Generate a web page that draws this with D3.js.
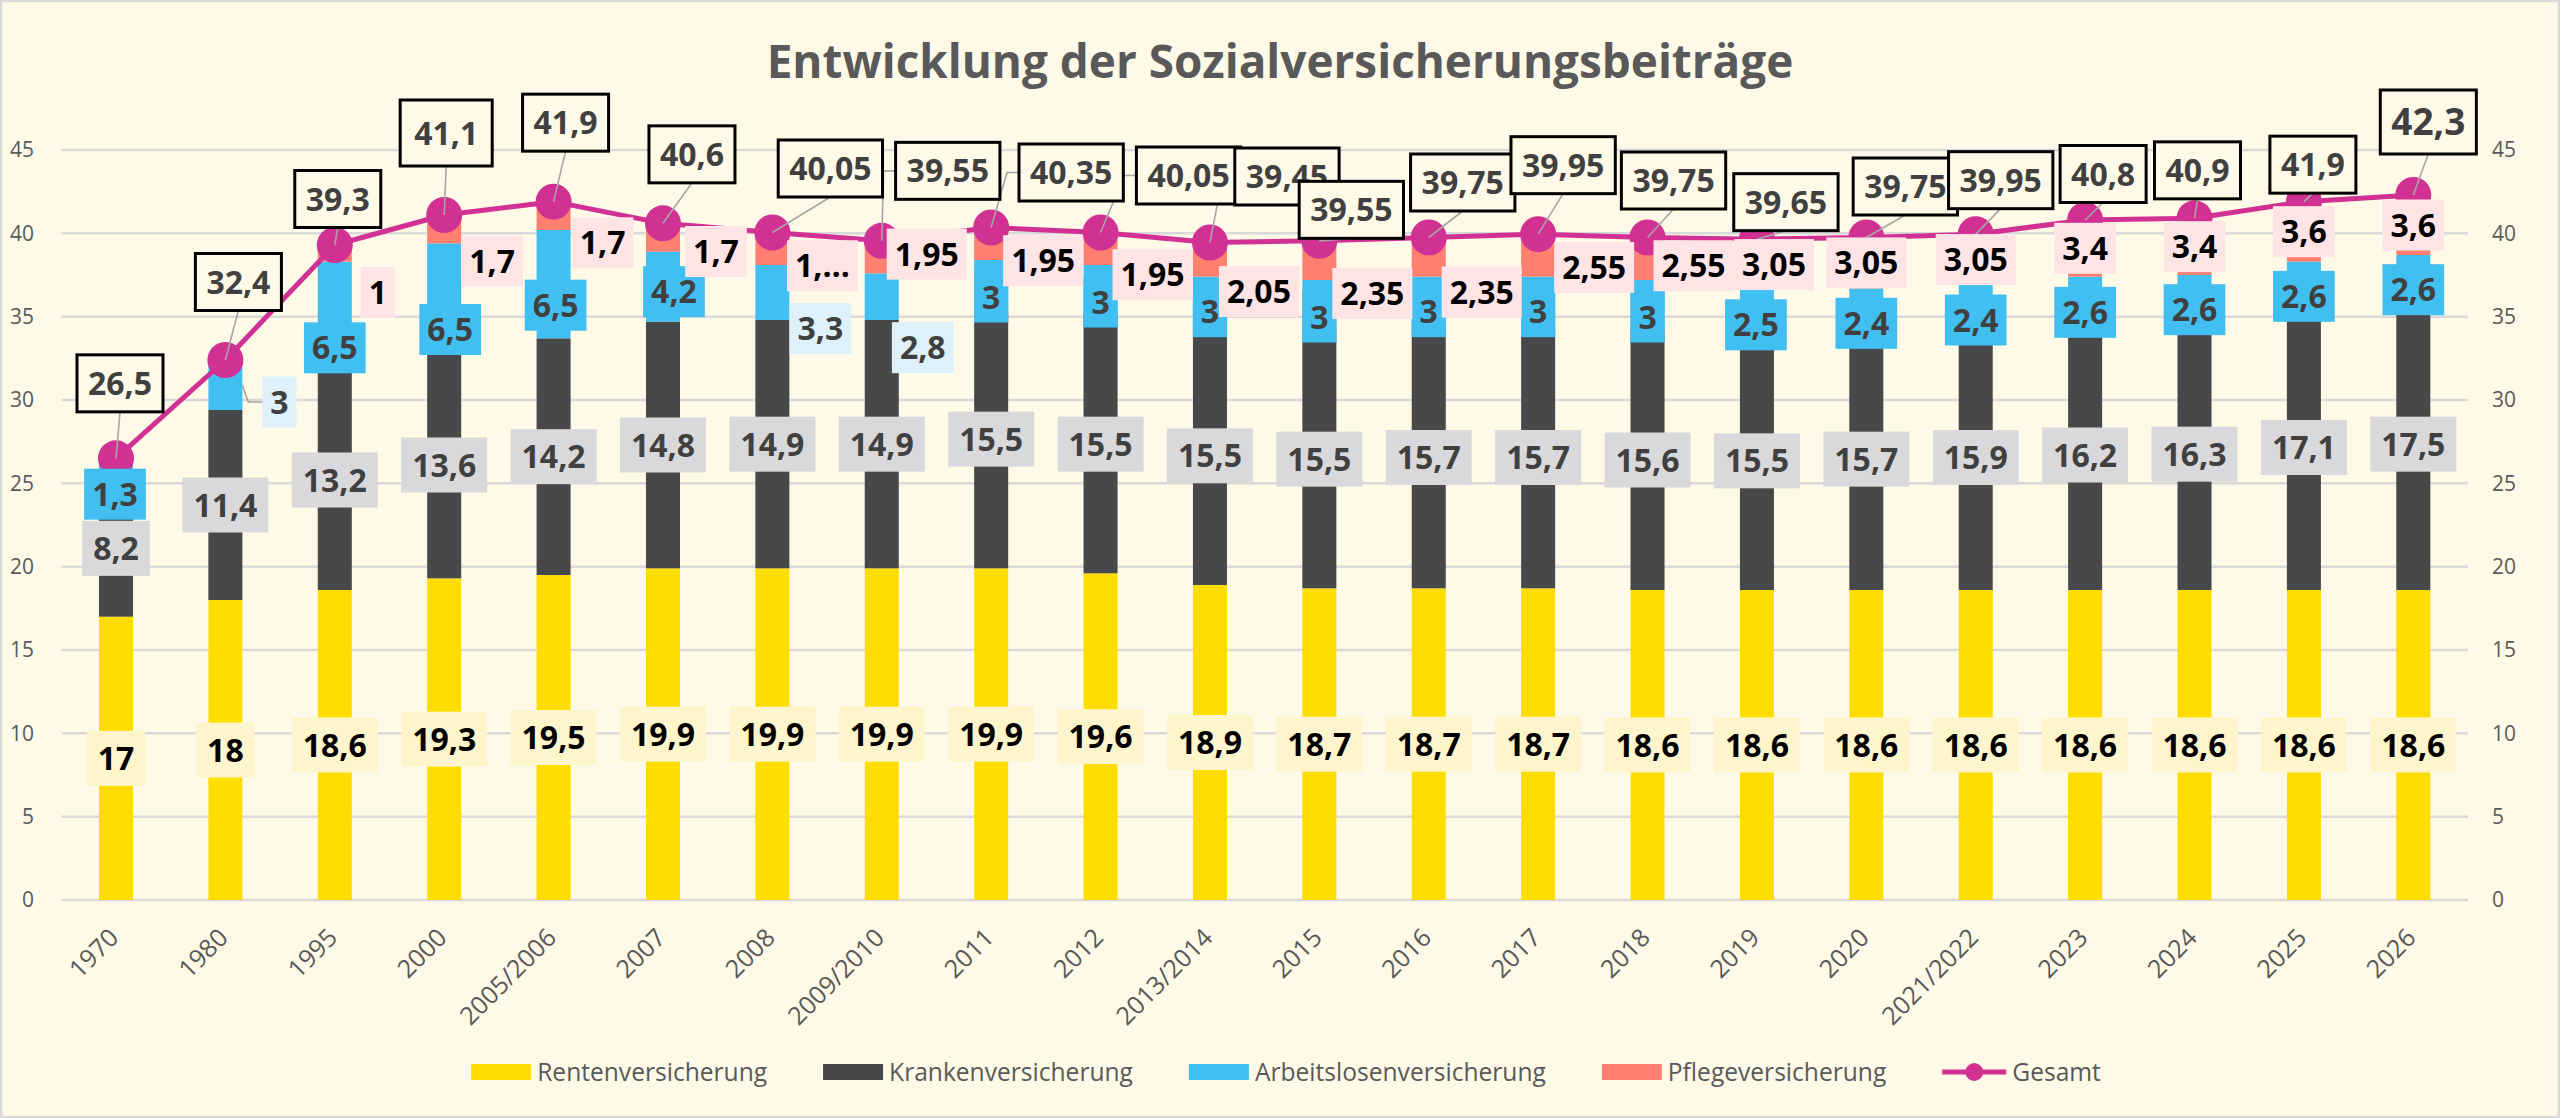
<!DOCTYPE html>
<html><head><meta charset="utf-8">
<script src="https://cdn.jsdelivr.net/npm/d3@7"></script>
<style>
html,body{margin:0;padding:0;background:#FFFAE7;}
svg{display:block;}
text{font-family:"Open Sans","Noto Sans","DejaVu Sans",sans-serif;}
</style></head><body>
<svg id="chart" width="2560" height="1118"></svg>
<script>
// ---------------- DATA ----------------
const title = "Entwicklung der Sozialversicherungsbeiträge";
const categories = ["1970","1980","1995","2000","2005/2006","2007","2008","2009/2010","2011","2012","2013/2014","2015","2016","2017","2018","2019","2020","2021/2022","2023","2024","2025","2026"];
const renten       = [17,18,18.6,19.3,19.5,19.9,19.9,19.9,19.9,19.6,18.9,18.7,18.7,18.7,18.6,18.6,18.6,18.6,18.6,18.6,18.6,18.6];
const kranken      = [8.2,11.4,13.2,13.6,14.2,14.8,14.9,14.9,15.5,15.5,15.5,15.5,15.7,15.7,15.6,15.5,15.7,15.9,16.2,16.3,17.1,17.5];
const arbeitslosen = [1.3,3,6.5,6.5,6.5,4.2,3.3,2.8,3,3,3,3,3,3,3,2.5,2.4,2.4,2.6,2.6,2.6,2.6];
const pflege       = [null,null,1,1.7,1.7,1.7,1.95,1.95,1.95,1.95,2.05,2.35,2.35,2.55,2.55,3.05,3.05,3.05,3.4,3.4,3.6,3.6];
const gesamt       = [26.5,32.4,39.3,41.1,41.9,40.6,40.05,39.55,40.35,40.05,39.45,39.55,39.75,39.95,39.75,39.65,39.75,39.95,40.8,40.9,41.9,42.3];
const yTicks = [0,5,10,15,20,25,30,35,40,45];
const seriesNames = ["Rentenversicherung","Krankenversicherung","Arbeitslosenversicherung","Pflegeversicherung","Gesamt"];
const labelTextOverride = {pflege: {6: "1,…"}};

// ---------------- LAYOUT (label nudges in px, relative to default anchor) ----------------
const gesamtNudge = [[4,-75],[13,-78],[3,-46],[2,-82],[12,-79],[29,-69],[58,-64],[66,-70],[80,-55],[88,-57],[77,-66],[32,-31],[34,-55],[25,-69],[26,-57],[29,-37],[39,-51],[25,-54],[18,-46],[3,-48],[9,-37],[15,-73]];
const pflegeNudge = [null,null,[43,39],[48,32],[49,27],[53,14],[50,17],[45,-3],[52,17],[52,26],[49,32],[53,33],[53,35],[56,12],[46,7],[17,0],[0,0],[0,0],[0,0],[0,0],[0,0],[0,0]];
const arbeitsNudge = [[-1,25],[54,17],[0,32],[6,32],[2,21],[11,5],[48,36],[41,51],[0,12],[0,12],[0,10],[0,12],[0,10],[0,10],[0,12],[-1,14],[0,15],[0,15],[0,14],[0,13],[0,13],[0,13]];
const arbeitsOutside = new Set([1,6,7]);
const gesamtBoxOverride = {3:{h:66,padX:14}, 21:{h:64,fs:37}};

const COL = {
  bg:"#FFFAE7", grid:"#D9D9D9", text:"#595959", dark:"#404040",
  renten:"#FFDD00", kranken:"#47484A", arbeits:"#41BFF0", pflege:"#FF8070", gesamt:"#D23194",
  rentenLbl:"#FFF5CC", krankenLbl:"#D9D9DB", arbeitsLight:"#DEF1FB", pflegeLbl:"#FFE4E6", leader:"#A6A6A6"
};

const W=2560,H=1118;
const M = {left:61.3, right:2468, top:150, bottom:900};
const svg = d3.select("#chart");

svg.append("rect").attr("x",1).attr("y",1).attr("width",W-2).attr("height",H-2)
  .attr("fill",COL.bg).attr("stroke","#D9D9D9").attr("stroke-width",2.5);

// title
const tt = svg.append("text").text(title).attr("x",1280).attr("y",78)
  .attr("text-anchor","middle").attr("font-weight",700).attr("fill",COL.text).attr("font-size",50);
{ const w = tt.node().getComputedTextLength(); tt.attr("font-size", 50*1027/w); }

const x = d3.scaleBand().domain(categories).range([M.left,M.right]).paddingInner(0.689).paddingOuter(0.3445);
const y = d3.scaleLinear().domain([0,45]).range([M.bottom,M.top]);
const bw = x.bandwidth();
const cx = i => x(categories[i]) + bw/2;

// grid
svg.append("g").selectAll("line").data(yTicks).join("line")
  .attr("x1",M.left).attr("x2",M.right).attr("y1",d=>y(d)).attr("y2",d=>y(d))
  .attr("stroke",COL.grid).attr("stroke-width",2.5);

// axes
function styleAxis(g){
  g.attr("font-family",null).attr("font-size",null);
  g.select(".domain").remove();
  g.selectAll(".tick line").remove();
  g.selectAll("text").attr("fill",COL.text).style("font-size","21px");
}
svg.append("g").attr("transform","translate(34,0)").call(d3.axisLeft(y).tickValues(yTicks).tickSize(0).tickPadding(0)).call(styleAxis);
svg.append("g").attr("transform","translate(2492,0)").call(d3.axisRight(y).tickValues(yTicks).tickSize(0).tickPadding(0)).call(styleAxis);
const xa = svg.append("g").attr("transform","translate(0,933)").call(d3.axisBottom(x).tickSize(0).tickPadding(0));
xa.call(styleAxis);
xa.selectAll("text").attr("y",0).attr("dy","0.35em").attr("text-anchor","end")
  .attr("transform","translate(-2,0) rotate(-45)").style("font-size","25px");

// bars
const keys = ["renten","kranken","arbeitslosen","pflege"];
const rows = categories.map((c,i)=>({cat:c, renten:renten[i], kranken:kranken[i], arbeitslosen:arbeitslosen[i], pflege:pflege[i]||0}));
const stacked = d3.stack().keys(keys)(rows);
const colorOf = {renten:COL.renten, kranken:COL.kranken, arbeitslosen:COL.arbeits, pflege:COL.pflege};
svg.append("g").selectAll("g").data(stacked).join("g").attr("fill",s=>colorOf[s.key])
  .selectAll("rect").data(s=>s).join("rect")
  .attr("x",d=>x(d.data.cat)).attr("width",bw)
  .attr("y",d=>y(d[1])).attr("height",d=>Math.max(0,y(d[0])-y(d[1])));

// line + dots
const line = d3.line().x((d,i)=>cx(i)).y(d=>y(d));
svg.append("path").datum(gesamt).attr("d",line).attr("fill","none").attr("stroke",COL.gesamt)
  .attr("stroke-width",5).attr("stroke-linejoin","round");
svg.append("g").selectAll("circle").data(gesamt).join("circle")
  .attr("cx",(d,i)=>cx(i)).attr("cy",d=>y(d)).attr("r",18).attr("fill",COL.gesamt);

// labels
const fmt = v => String(v).replace(".", ",");
function makeLabel(layer, lx, ly, str, st){
  const g = layer.append("g");
  const rect = g.append("rect");
  const t = g.append("text").text(str).attr("x",lx).attr("y",ly + st.fs*0.36)
    .attr("text-anchor","middle").attr("font-weight",700).attr("font-size",st.fs).attr("fill",st.color);
  const tw = t.node().getComputedTextLength();
  const w = tw + st.padX*2, h = st.h;
  rect.attr("x",lx-w/2).attr("y",ly-h/2).attr("width",w).attr("height",h).attr("fill",st.fill);
  if(st.stroke) rect.attr("stroke",st.stroke).attr("stroke-width",st.sw);
  return {left:lx-w/2,right:lx+w/2,top:ly-h/2,bottom:ly+h/2,cx:lx,cy:ly};
}
const leaderLayer = svg.append("g").attr("fill","none").attr("stroke",COL.leader).attr("stroke-width",1.6);
const labelLayer = svg.append("g");

const sRenten = stacked[0], sKranken = stacked[1], sArbeits = stacked[2], sPflege = stacked[3];
// Renten
sRenten.forEach((d,i)=>{
  makeLabel(labelLayer, cx(i), y((d[0]+d[1])/2), fmt(renten[i]), {fs:32,color:"#000",fill:COL.rentenLbl,padX:11,h:55});
});
// Kranken
sKranken.forEach((d,i)=>{
  makeLabel(labelLayer, cx(i), y((d[0]+d[1])/2), fmt(kranken[i]), {fs:32,color:COL.dark,fill:COL.krankenLbl,padX:11,h:55});
});
// Arbeitslosen
sArbeits.forEach((d,i)=>{
  const segY = y((d[0]+d[1])/2);
  const [dx,dy] = arbeitsNudge[i];
  const out = arbeitsOutside.has(i);
  const b = makeLabel(labelLayer, cx(i)+dx, segY+dy, fmt(arbeitslosen[i]),
    {fs:32,color:COL.dark,fill: out?COL.arbeitsLight:COL.arbeits,padX:8,h:51});
  if(out){
    const barRight = cx(i)+bw/2;
    if(b.left - barRight > 6){
      let pts;
      if(b.top > segY + 10) pts = [[barRight,segY],[b.cx,b.top]];
      else pts = [[barRight,segY],[b.left-14,b.cy],[b.left,b.cy]];
      leaderLayer.append("path").attr("d",d3.line()(pts));
    }
  }
});
// Pflege
sPflege.forEach((d,i)=>{
  if(pflege[i]==null) return;
  const [dx,dy] = pflegeNudge[i];
  const str = (labelTextOverride.pflege[i]) || fmt(pflege[i]);
  makeLabel(labelLayer, cx(i)+dx, y((d[0]+d[1])/2)+dy, str, {fs:32,color:"#000",fill:COL.pflegeLbl,padX:8,h:51});
});
// Gesamt
gesamt.forEach((v,i)=>{
  const px = cx(i), py = y(v);
  const [dx,dy] = gesamtNudge[i];
  const ov = gesamtBoxOverride[i] || {};
  const b = makeLabel(labelLayer, px+dx, py+dy, fmt(v),
    {fs:ov.fs||32,color:COL.dark,fill:COL.bg,padX:ov.padX||11,h:ov.h||57,stroke:"#000",sw:3});
  let pts;
  if(px >= b.left - 8) pts = [[px,py],[b.cx,b.bottom]];
  else pts = [[px,py],[b.left-12,b.cy],[b.left,b.cy]];
  leaderLayer.append("path").attr("d",d3.line()(pts));
});

// legend
const lg = svg.append("g");
const legendY = 1072;
const items = seriesNames.map((n,i)=>({name:n, color:[COL.renten,COL.kranken,COL.arbeits,COL.pflege,COL.gesamt][i], isLine:i===4}));
const probe = lg.append("text").text(seriesNames[0]).attr("font-size",24);
const legendFs = 24*230/probe.node().getComputedTextLength();
probe.remove();
let widths = items.map(it=>{
  const t = lg.append("text").text(it.name).attr("font-size",legendFs);
  const w = t.node().getComputedTextLength(); t.remove(); return w;
});
const swW = 60, swGap = 6, itemGap = 56;
const total = d3.sum(widths) + items.length*(swW+swGap) + (items.length-1)*itemGap;
let lx = 1284 - total/2;
items.forEach((it,i)=>{
  const g = lg.append("g");
  if(it.isLine){
    g.append("line").attr("x1",lx).attr("x2",lx+swW+4).attr("y1",legendY).attr("y2",legendY).attr("stroke",it.color).attr("stroke-width",5);
    g.append("circle").attr("cx",lx+(swW+4)/2).attr("cy",legendY).attr("r",9).attr("fill",it.color);
  } else {
    g.append("rect").attr("x",lx).attr("y",legendY-8).attr("width",swW).attr("height",16).attr("fill",it.color);
  }
  g.append("text").text(it.name).attr("x",lx+swW+swGap+(it.isLine?4:0)).attr("y",legendY+legendFs*0.36)
    .attr("font-size",legendFs).attr("fill",COL.text);
  lx += swW+swGap+widths[i]+itemGap;
});
</script>
</body></html>
